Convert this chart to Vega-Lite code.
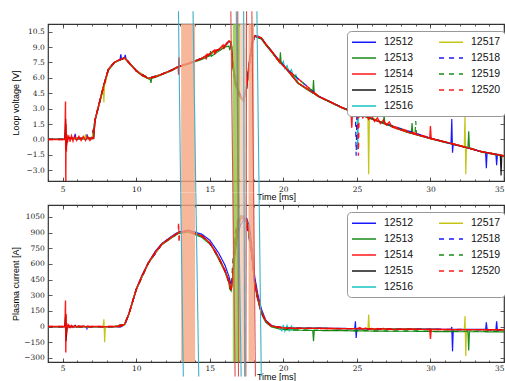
{
"$schema": "https://vega.github.io/schema/vega-lite/v6.json",
"background": "white",
"padding": {"left": 10, "top": 10, "right": 0, "bottom": 0},
"autosize": {"type": "pad"},
"spacing": 24,
"bounds": "flush",
"datasets": {
"bands": [
{"t":13.05,"te":14.0,"c":"o"},
{"t":16.56,"te":17.06,"c":"g"},
{"t":17.06,"te":17.47,"c":"p"},
{"t":17.63,"te":18.01,"c":"o"}
],
"vlines": [
{"c":"cyan","ta":12.87,"tm":13.02,"tb":13.2},
{"c":"cyan","ta":13.86,"tm":14.05,"tb":14.25},
{"c":"cyan","ta":16.8,"tm":16.95,"tb":17.13},
{"c":"cyan","ta":17.3,"tm":17.33,"tb":17.37},
{"c":"cyan","ta":18.2,"tm":18.35,"tb":18.5},
{"c":"red","ta":16.43,"tm":16.57,"tb":16.72},
{"c":"red","ta":16.9,"tm":16.92,"tb":16.95},
{"c":"red","ta":17.5,"tm":17.48,"tb":17.45},
{"c":"red","ta":17.86,"tm":17.98,"tb":18.1}
],
"shots": [
{"s":"12512","t":4,"v":0,"i":0},
{"s":"12512","t":5.15,"v":0,"i":0},
{"s":"12512","t":5.2,"v":0.8,"i":40},
{"s":"12512","t":5.23,"v":-0.5,"i":-30},
{"s":"12512","t":5.3,"v":0.1,"i":2},
{"s":"12512","t":5.8,"v":0.1,"i":-3},
{"s":"12512","t":5.85,"v":0.55,"i":10},
{"s":"12512","t":5.9,"v":0.05,"i":-3},
{"s":"12512","t":6.6,"v":0.1,"i":0},
{"s":"12512","t":6.65,"v":0.5,"i":-20},
{"s":"12512","t":6.7,"v":0.1,"i":0},
{"s":"12512","t":7.0,"v":0.1,"i":0},
{"s":"12512","t":7.1,"v":0.1,"i":0},
{"s":"12512","t":7.2,"v":1.9,"i":0},
{"s":"12512","t":7.5,"v":3.6,"i":0},
{"s":"12512","t":7.8,"v":5.3,"i":-2},
{"s":"12512","t":8.1,"v":6.8,"i":0},
{"s":"12512","t":8.5,"v":7.5,"i":0},
{"s":"12512","t":8.9,"v":7.8,"i":-5},
{"s":"12512","t":8.95,"v":8.3,"i":0},
{"s":"12512","t":9.0,"v":7.8,"i":0},
{"s":"12512","t":9.2,"v":7.95,"i":22},
{"s":"12512","t":9.25,"v":8.25,"i":30},
{"s":"12512","t":9.3,"v":7.85,"i":40},
{"s":"12512","t":9.5,"v":7.5,"i":125},
{"s":"12512","t":10.0,"v":6.7,"i":360},
{"s":"12512","t":10.4,"v":6.25,"i":495},
{"s":"12512","t":10.83,"v":5.95,"i":616},
{"s":"12512","t":11.3,"v":6.1,"i":722},
{"s":"12512","t":11.73,"v":6.35,"i":795},
{"s":"12512","t":12.41,"v":6.75,"i":866},
{"s":"12512","t":12.87,"v":7.1,"i":906},
{"s":"12512","t":13.55,"v":7.4,"i":924},
{"s":"12512","t":14.46,"v":7.9,"i":885},
{"s":"12512","t":15.0,"v":8.3,"i":828},
{"s":"12512","t":15.6,"v":8.75,"i":705},
{"s":"12512","t":16.04,"v":9.15,"i":585},
{"s":"12512","t":16.3,"v":9.5,"i":480},
{"s":"12512","t":16.45,"v":9.4,"i":400},
{"s":"12512","t":16.55,"v":7.8,"i":430},
{"s":"12512","t":16.7,"v":6.0,"i":680},
{"s":"12512","t":16.9,"v":4.9,"i":880},
{"s":"12512","t":17.1,"v":4.2,"i":980},
{"s":"12512","t":17.3,"v":3.9,"i":1020},
{"s":"12512","t":17.5,"v":4.9,"i":1040},
{"s":"12512","t":17.7,"v":7.3,"i":960},
{"s":"12512","t":17.9,"v":9.3,"i":720},
{"s":"12512","t":18.05,"v":10.0,"i":480},
{"s":"12512","t":18.25,"v":10.1,"i":320},
{"s":"12512","t":18.5,"v":9.9,"i":170},
{"s":"12512","t":18.8,"v":9.3,"i":62},
{"s":"12512","t":19.2,"v":8.6,"i":10},
{"s":"12512","t":19.7,"v":7.6,"i":-8},
{"s":"12512","t":20.2,"v":6.9,"i":-12},
{"s":"12512","t":21.0,"v":5.5,"i":-15},
{"s":"12512","t":22.4,"v":4.2,"i":-15},
{"s":"12512","t":24.0,"v":3.1,"i":-18},
{"s":"12512","t":24.85,"v":2.6,"i":-20},
{"s":"12512","t":24.9,"v":2.6,"i":50},
{"s":"12512","t":24.95,"v":2.6,"i":-110},
{"s":"12512","t":25.0,"v":2.5,"i":-20},
{"s":"12512","t":25.5,"v":2.3,"i":-20},
{"s":"12512","t":27.0,"v":1.5,"i":-22},
{"s":"12512","t":28.5,"v":0.7,"i":-22},
{"s":"12512","t":30.3,"v":0.0,"i":-25},
{"s":"12512","t":31.4,"v":-0.4,"i":-27},
{"s":"12512","t":31.45,"v":2.0,"i":-5},
{"s":"12512","t":31.5,"v":-1.3,"i":-236},
{"s":"12512","t":31.55,"v":-0.45,"i":-28},
{"s":"12512","t":32.0,"v":-0.6,"i":-28},
{"s":"12512","t":33.5,"v":-1.2,"i":-28},
{"s":"12512","t":33.75,"v":-1.3,"i":-28},
{"s":"12512","t":33.8,"v":-2.8,"i":40},
{"s":"12512","t":33.85,"v":-1.3,"i":-28},
{"s":"12512","t":34.45,"v":-1.45,"i":-30},
{"s":"12512","t":34.5,"v":-2.5,"i":50},
{"s":"12512","t":34.55,"v":-1.5,"i":-30},
{"s":"12512","t":35.0,"v":-1.6,"i":-30},
{"s":"12513","t":4,"v":0,"i":0},
{"s":"12513","t":5.15,"v":0,"i":0},
{"s":"12513","t":5.2,"v":1.2,"i":120},
{"s":"12513","t":5.23,"v":-1.0,"i":-100},
{"s":"12513","t":5.3,"v":0.1,"i":2},
{"s":"12513","t":6.0,"v":0.05,"i":-5},
{"s":"12513","t":7.0,"v":0.05,"i":-3},
{"s":"12513","t":7.1,"v":0.1,"i":0},
{"s":"12513","t":7.2,"v":1.8,"i":0},
{"s":"12513","t":7.5,"v":3.5,"i":0},
{"s":"12513","t":7.8,"v":5.2,"i":-5},
{"s":"12513","t":8.1,"v":6.7,"i":0},
{"s":"12513","t":8.5,"v":7.45,"i":0},
{"s":"12513","t":8.9,"v":7.75,"i":0},
{"s":"12513","t":9.2,"v":7.9,"i":18},
{"s":"12513","t":9.5,"v":7.45,"i":118},
{"s":"12513","t":10.0,"v":6.65,"i":350},
{"s":"12513","t":10.4,"v":6.2,"i":485},
{"s":"12513","t":10.83,"v":5.9,"i":605},
{"s":"12513","t":10.95,"v":5.85,"i":630},
{"s":"12513","t":11.0,"v":5.5,"i":640},
{"s":"12513","t":11.05,"v":5.95,"i":650},
{"s":"12513","t":11.3,"v":6.05,"i":710},
{"s":"12513","t":11.73,"v":6.3,"i":782},
{"s":"12513","t":12.41,"v":6.7,"i":850},
{"s":"12513","t":12.87,"v":7.05,"i":892},
{"s":"12513","t":13.55,"v":7.35,"i":905},
{"s":"12513","t":14.46,"v":7.8,"i":855},
{"s":"12513","t":15.0,"v":8.15,"i":790},
{"s":"12513","t":15.05,"v":8.6,"i":785},
{"s":"12513","t":15.1,"v":8.1,"i":780},
{"s":"12513","t":15.6,"v":8.6,"i":645},
{"s":"12513","t":16.04,"v":9.0,"i":520},
{"s":"12513","t":16.3,"v":9.1,"i":415},
{"s":"12513","t":16.35,"v":8.7,"i":360},
{"s":"12513","t":16.45,"v":9.3,"i":340},
{"s":"12513","t":16.55,"v":7.3,"i":470},
{"s":"12513","t":16.7,"v":5.6,"i":780},
{"s":"12513","t":16.9,"v":4.7,"i":990},
{"s":"12513","t":17.1,"v":4.0,"i":1060},
{"s":"12513","t":17.3,"v":3.7,"i":1060},
{"s":"12513","t":17.5,"v":5.1,"i":1010},
{"s":"12513","t":17.7,"v":7.7,"i":860},
{"s":"12513","t":17.9,"v":9.6,"i":630},
{"s":"12513","t":18.05,"v":10.1,"i":400},
{"s":"12513","t":18.25,"v":9.9,"i":260},
{"s":"12513","t":18.5,"v":9.8,"i":125},
{"s":"12513","t":18.8,"v":9.2,"i":40},
{"s":"12513","t":19.2,"v":8.5,"i":-5},
{"s":"12513","t":19.75,"v":7.5,"i":-25},
{"s":"12513","t":19.8,"v":8.5,"i":-25},
{"s":"12513","t":19.85,"v":7.4,"i":-25},
{"s":"12513","t":20.2,"v":6.85,"i":-30},
{"s":"12513","t":21.0,"v":5.45,"i":-35},
{"s":"12513","t":22.0,"v":4.5,"i":-38},
{"s":"12513","t":22.05,"v":5.8,"i":-140},
{"s":"12513","t":22.1,"v":4.45,"i":-38},
{"s":"12513","t":22.4,"v":4.15,"i":-38},
{"s":"12513","t":24.0,"v":3.05,"i":-40},
{"s":"12513","t":25.5,"v":2.25,"i":-42},
{"s":"12513","t":26.8,"v":1.55,"i":-45},
{"s":"12513","t":26.85,"v":2.4,"i":-45},
{"s":"12513","t":26.9,"v":1.5,"i":-45},
{"s":"12513","t":28.5,"v":0.65,"i":-45},
{"s":"12513","t":28.7,"v":0.6,"i":-45},
{"s":"12513","t":28.75,"v":1.6,"i":-45},
{"s":"12513","t":28.8,"v":0.55,"i":-45},
{"s":"12513","t":30.3,"v":-0.05,"i":-48},
{"s":"12513","t":32.0,"v":-0.65,"i":-50},
{"s":"12513","t":32.55,"v":-0.8,"i":-50},
{"s":"12513","t":32.6,"v":0.8,"i":-230},
{"s":"12513","t":32.65,"v":-0.8,"i":-50},
{"s":"12513","t":33.5,"v":-1.25,"i":-50},
{"s":"12513","t":35.0,"v":-1.65,"i":-52},
{"s":"12514","t":4,"v":0,"i":0},
{"s":"12514","t":5.15,"v":0,"i":0},
{"s":"12514","t":5.19,"v":3.7,"i":250},
{"s":"12514","t":5.21,"v":-4.5,"i":-250},
{"s":"12514","t":5.23,"v":1.5,"i":120},
{"s":"12514","t":5.25,"v":-1.2,"i":-80},
{"s":"12514","t":5.28,"v":0.5,"i":30},
{"s":"12514","t":5.32,"v":-0.3,"i":-20},
{"s":"12514","t":5.4,"v":0.4,"i":15},
{"s":"12514","t":5.5,"v":-0.2,"i":-10},
{"s":"12514","t":5.6,"v":0.35,"i":10},
{"s":"12514","t":5.7,"v":-0.15,"i":-8},
{"s":"12514","t":5.8,"v":0.3,"i":8},
{"s":"12514","t":5.95,"v":-0.1,"i":-6},
{"s":"12514","t":6.1,"v":0.3,"i":6},
{"s":"12514","t":6.25,"v":-0.1,"i":-5},
{"s":"12514","t":6.4,"v":0.3,"i":5},
{"s":"12514","t":6.55,"v":-0.1,"i":-5},
{"s":"12514","t":6.7,"v":0.3,"i":5},
{"s":"12514","t":6.85,"v":-0.1,"i":-5},
{"s":"12514","t":7.0,"v":0.2,"i":0},
{"s":"12514","t":7.1,"v":0.1,"i":0},
{"s":"12514","t":7.2,"v":1.9,"i":0},
{"s":"12514","t":7.5,"v":3.6,"i":0},
{"s":"12514","t":7.8,"v":5.3,"i":-2},
{"s":"12514","t":8.1,"v":6.8,"i":0},
{"s":"12514","t":8.5,"v":7.5,"i":0},
{"s":"12514","t":8.9,"v":7.8,"i":0},
{"s":"12514","t":9.2,"v":7.95,"i":20},
{"s":"12514","t":9.5,"v":7.5,"i":120},
{"s":"12514","t":10.0,"v":6.7,"i":356},
{"s":"12514","t":10.4,"v":6.25,"i":490},
{"s":"12514","t":10.83,"v":5.95,"i":611},
{"s":"12514","t":11.3,"v":6.1,"i":715},
{"s":"12514","t":11.73,"v":6.35,"i":788},
{"s":"12514","t":12.41,"v":6.75,"i":858},
{"s":"12514","t":12.85,"v":7.1,"i":898},
{"s":"12514","t":12.88,"v":6.3,"i":902},
{"s":"12514","t":12.9,"v":8.0,"i":904},
{"s":"12514","t":12.93,"v":7.1,"i":906},
{"s":"12514","t":13.55,"v":7.4,"i":916},
{"s":"12514","t":14.46,"v":7.9,"i":868},
{"s":"12514","t":14.7,"v":8.15,"i":840},
{"s":"12514","t":14.75,"v":7.8,"i":835},
{"s":"12514","t":14.8,"v":8.3,"i":830},
{"s":"12514","t":15.0,"v":8.3,"i":800},
{"s":"12514","t":15.3,"v":8.7,"i":735},
{"s":"12514","t":15.35,"v":8.3,"i":725},
{"s":"12514","t":15.4,"v":8.7,"i":715},
{"s":"12514","t":15.6,"v":8.75,"i":660},
{"s":"12514","t":15.9,"v":9.2,"i":575},
{"s":"12514","t":15.95,"v":8.8,"i":560},
{"s":"12514","t":16.04,"v":9.2,"i":532},
{"s":"12514","t":16.3,"v":9.6,"i":430},
{"s":"12514","t":16.45,"v":9.5,"i":350},
{"s":"12514","t":16.55,"v":7.5,"i":450},
{"s":"12514","t":16.7,"v":5.8,"i":750},
{"s":"12514","t":16.9,"v":4.8,"i":960},
{"s":"12514","t":17.1,"v":4.1,"i":1040},
{"s":"12514","t":17.3,"v":3.8,"i":1050},
{"s":"12514","t":17.5,"v":5.0,"i":1020},
{"s":"12514","t":17.7,"v":7.5,"i":880},
{"s":"12514","t":17.9,"v":9.5,"i":650},
{"s":"12514","t":18.05,"v":10.1,"i":420},
{"s":"12514","t":18.25,"v":10.0,"i":280},
{"s":"12514","t":18.5,"v":9.9,"i":140},
{"s":"12514","t":18.8,"v":9.3,"i":52},
{"s":"12514","t":19.2,"v":8.6,"i":5},
{"s":"12514","t":19.7,"v":7.6,"i":-10},
{"s":"12514","t":20.2,"v":6.9,"i":-15},
{"s":"12514","t":21.0,"v":5.5,"i":-18},
{"s":"12514","t":22.4,"v":4.2,"i":-18},
{"s":"12514","t":24.0,"v":3.1,"i":-20},
{"s":"12514","t":24.6,"v":2.7,"i":-20},
{"s":"12514","t":24.65,"v":1.15,"i":-20},
{"s":"12514","t":24.7,"v":2.7,"i":-20},
{"s":"12514","t":25.0,"v":2.5,"i":-20},
{"s":"12514","t":25.2,"v":2.75,"i":-10},
{"s":"12514","t":25.4,"v":2.1,"i":-25},
{"s":"12514","t":25.6,"v":2.5,"i":-15},
{"s":"12514","t":25.8,"v":1.95,"i":-28},
{"s":"12514","t":26.0,"v":2.3,"i":-18},
{"s":"12514","t":26.2,"v":1.75,"i":-28},
{"s":"12514","t":26.4,"v":2.1,"i":-18},
{"s":"12514","t":26.6,"v":1.55,"i":-28},
{"s":"12514","t":26.8,"v":1.9,"i":-18},
{"s":"12514","t":27.0,"v":1.4,"i":-28},
{"s":"12514","t":27.2,"v":1.7,"i":-20},
{"s":"12514","t":27.4,"v":1.2,"i":-28},
{"s":"12514","t":28.5,"v":0.7,"i":-25},
{"s":"12514","t":29.95,"v":0.1,"i":-28},
{"s":"12514","t":30.0,"v":1.3,"i":-120},
{"s":"12514","t":30.05,"v":0.05,"i":-28},
{"s":"12514","t":30.3,"v":0.0,"i":-28},
{"s":"12514","t":32.0,"v":-0.6,"i":-30},
{"s":"12514","t":33.5,"v":-1.2,"i":-30},
{"s":"12514","t":35.0,"v":-1.6,"i":-32},
{"s":"12515","t":4,"v":0,"i":0},
{"s":"12515","t":5.15,"v":0,"i":0},
{"s":"12515","t":5.2,"v":2.0,"i":100},
{"s":"12515","t":5.23,"v":-1.0,"i":-140},
{"s":"12515","t":5.3,"v":0.1,"i":2},
{"s":"12515","t":7.0,"v":0.1,"i":0},
{"s":"12515","t":7.2,"v":1.95,"i":0},
{"s":"12515","t":7.5,"v":3.65,"i":0},
{"s":"12515","t":7.8,"v":5.35,"i":0},
{"s":"12515","t":8.1,"v":6.85,"i":0},
{"s":"12515","t":8.5,"v":7.5,"i":0},
{"s":"12515","t":9.2,"v":7.95,"i":20},
{"s":"12515","t":9.5,"v":7.5,"i":120},
{"s":"12515","t":10.0,"v":6.7,"i":356},
{"s":"12515","t":10.83,"v":5.95,"i":611},
{"s":"12515","t":11.73,"v":6.35,"i":790},
{"s":"12515","t":12.41,"v":6.78,"i":860},
{"s":"12515","t":12.87,"v":7.12,"i":902},
{"s":"12515","t":13.55,"v":7.42,"i":918},
{"s":"12515","t":14.46,"v":7.92,"i":870},
{"s":"12515","t":15.0,"v":8.3,"i":800},
{"s":"12515","t":15.6,"v":8.75,"i":662},
{"s":"12515","t":16.04,"v":9.15,"i":534},
{"s":"12515","t":16.3,"v":9.55,"i":432},
{"s":"12515","t":16.45,"v":9.5,"i":352},
{"s":"12515","t":16.55,"v":7.6,"i":440},
{"s":"12515","t":16.7,"v":5.9,"i":730},
{"s":"12515","t":16.9,"v":4.85,"i":950},
{"s":"12515","t":17.1,"v":4.15,"i":1030},
{"s":"12515","t":17.3,"v":3.85,"i":1045},
{"s":"12515","t":17.5,"v":5.0,"i":1020},
{"s":"12515","t":17.7,"v":7.4,"i":890},
{"s":"12515","t":17.9,"v":9.45,"i":660},
{"s":"12515","t":18.05,"v":10.05,"i":430},
{"s":"12515","t":18.25,"v":10.0,"i":285},
{"s":"12515","t":18.5,"v":9.85,"i":145},
{"s":"12515","t":18.8,"v":9.3,"i":55},
{"s":"12515","t":19.2,"v":8.6,"i":5},
{"s":"12515","t":19.7,"v":7.6,"i":-10},
{"s":"12515","t":20.2,"v":6.9,"i":-15},
{"s":"12515","t":21.0,"v":5.5,"i":-18},
{"s":"12515","t":22.4,"v":4.2,"i":-18},
{"s":"12515","t":24.0,"v":3.1,"i":-20},
{"s":"12515","t":25.5,"v":2.3,"i":-22},
{"s":"12515","t":27.0,"v":1.5,"i":-25},
{"s":"12515","t":28.5,"v":0.7,"i":-25},
{"s":"12515","t":30.3,"v":0.0,"i":-28},
{"s":"12515","t":32.0,"v":-0.6,"i":-30},
{"s":"12515","t":33.5,"v":-1.2,"i":-30},
{"s":"12515","t":34.75,"v":-1.5,"i":-30},
{"s":"12515","t":34.8,"v":-3.5,"i":-30},
{"s":"12515","t":34.85,"v":-1.55,"i":-30},
{"s":"12515","t":35.0,"v":-1.6,"i":-32},
{"s":"12516","t":4,"v":0,"i":0},
{"s":"12516","t":5.15,"v":0,"i":0},
{"s":"12516","t":5.3,"v":0.1,"i":0},
{"s":"12516","t":7.0,"v":0.1,"i":0},
{"s":"12516","t":7.2,"v":1.9,"i":0},
{"s":"12516","t":7.5,"v":3.6,"i":0},
{"s":"12516","t":7.8,"v":5.3,"i":0},
{"s":"12516","t":8.1,"v":6.8,"i":0},
{"s":"12516","t":8.5,"v":7.5,"i":0},
{"s":"12516","t":9.2,"v":7.95,"i":20},
{"s":"12516","t":9.5,"v":7.5,"i":120},
{"s":"12516","t":10.0,"v":6.7,"i":356},
{"s":"12516","t":10.83,"v":5.95,"i":611},
{"s":"12516","t":11.73,"v":6.35,"i":788},
{"s":"12516","t":12.41,"v":6.75,"i":858},
{"s":"12516","t":12.87,"v":7.1,"i":900},
{"s":"12516","t":13.55,"v":7.4,"i":916},
{"s":"12516","t":14.46,"v":7.9,"i":868},
{"s":"12516","t":15.0,"v":8.3,"i":800},
{"s":"12516","t":15.6,"v":8.75,"i":660},
{"s":"12516","t":16.04,"v":9.15,"i":532},
{"s":"12516","t":16.3,"v":9.55,"i":430},
{"s":"12516","t":16.45,"v":9.5,"i":350},
{"s":"12516","t":16.55,"v":7.5,"i":450},
{"s":"12516","t":16.7,"v":5.8,"i":750},
{"s":"12516","t":16.9,"v":4.8,"i":960},
{"s":"12516","t":17.1,"v":4.1,"i":1040},
{"s":"12516","t":17.3,"v":3.8,"i":1050},
{"s":"12516","t":17.5,"v":5.0,"i":1020},
{"s":"12516","t":17.7,"v":7.5,"i":880},
{"s":"12516","t":17.9,"v":9.5,"i":650},
{"s":"12516","t":18.05,"v":10.1,"i":420},
{"s":"12516","t":18.25,"v":10.0,"i":280},
{"s":"12516","t":18.5,"v":9.9,"i":140},
{"s":"12516","t":18.8,"v":9.3,"i":52},
{"s":"12516","t":19.2,"v":8.6,"i":5},
{"s":"12516","t":19.7,"v":7.6,"i":-10},
{"s":"12516","t":19.9,"v":7.3,"i":-40},
{"s":"12516","t":20.0,"v":7.6,"i":15},
{"s":"12516","t":20.1,"v":6.9,"i":-45},
{"s":"12516","t":20.25,"v":7.2,"i":10},
{"s":"12516","t":20.4,"v":6.5,"i":-40},
{"s":"12516","t":20.55,"v":6.8,"i":5},
{"s":"12516","t":20.7,"v":6.0,"i":-35},
{"s":"12516","t":20.85,"v":6.3,"i":-10},
{"s":"12516","t":21.0,"v":5.5,"i":-18},
{"s":"12516","t":22.4,"v":4.2,"i":-18},
{"s":"12516","t":24.0,"v":3.1,"i":-20},
{"s":"12516","t":24.95,"v":2.6,"i":-20},
{"s":"12516","t":25.0,"v":3.9,"i":-20},
{"s":"12516","t":25.05,"v":-1.0,"i":-20},
{"s":"12516","t":25.1,"v":2.5,"i":-20},
{"s":"12516","t":25.5,"v":2.3,"i":-22},
{"s":"12516","t":27.0,"v":1.5,"i":-25},
{"s":"12516","t":28.5,"v":0.7,"i":-25},
{"s":"12516","t":30.3,"v":0.0,"i":-28},
{"s":"12516","t":32.0,"v":-0.6,"i":-30},
{"s":"12516","t":33.5,"v":-1.2,"i":-30},
{"s":"12516","t":35.0,"v":-1.6,"i":-32},
{"s":"12517","t":4,"v":0,"i":0},
{"s":"12517","t":5.15,"v":0,"i":0},
{"s":"12517","t":5.3,"v":0.1,"i":0},
{"s":"12517","t":6.5,"v":0.1,"i":0},
{"s":"12517","t":6.55,"v":0.5,"i":0},
{"s":"12517","t":6.6,"v":0.1,"i":0},
{"s":"12517","t":7.0,"v":0.1,"i":0},
{"s":"12517","t":7.2,"v":1.9,"i":0},
{"s":"12517","t":7.5,"v":3.6,"i":0},
{"s":"12517","t":7.75,"v":5.2,"i":-2},
{"s":"12517","t":7.8,"v":3.6,"i":70},
{"s":"12517","t":7.85,"v":5.6,"i":-150},
{"s":"12517","t":7.9,"v":5.5,"i":0},
{"s":"12517","t":8.1,"v":6.8,"i":0},
{"s":"12517","t":8.5,"v":7.5,"i":0},
{"s":"12517","t":9.2,"v":7.95,"i":20},
{"s":"12517","t":9.5,"v":7.5,"i":120},
{"s":"12517","t":10.0,"v":6.7,"i":356},
{"s":"12517","t":10.83,"v":5.95,"i":611},
{"s":"12517","t":11.73,"v":6.35,"i":788},
{"s":"12517","t":12.41,"v":6.75,"i":858},
{"s":"12517","t":12.87,"v":7.1,"i":900},
{"s":"12517","t":13.55,"v":7.4,"i":916},
{"s":"12517","t":14.46,"v":7.9,"i":868},
{"s":"12517","t":15.0,"v":8.3,"i":800},
{"s":"12517","t":15.6,"v":8.75,"i":660},
{"s":"12517","t":16.04,"v":9.15,"i":532},
{"s":"12517","t":16.3,"v":9.55,"i":430},
{"s":"12517","t":16.45,"v":9.5,"i":350},
{"s":"12517","t":16.55,"v":7.5,"i":450},
{"s":"12517","t":16.7,"v":5.8,"i":750},
{"s":"12517","t":16.9,"v":4.8,"i":960},
{"s":"12517","t":17.1,"v":4.1,"i":1040},
{"s":"12517","t":17.3,"v":3.8,"i":1050},
{"s":"12517","t":17.5,"v":5.0,"i":1020},
{"s":"12517","t":17.7,"v":7.5,"i":880},
{"s":"12517","t":17.9,"v":9.5,"i":650},
{"s":"12517","t":18.05,"v":10.1,"i":420},
{"s":"12517","t":18.25,"v":10.0,"i":280},
{"s":"12517","t":18.5,"v":9.9,"i":140},
{"s":"12517","t":18.8,"v":9.3,"i":52},
{"s":"12517","t":19.2,"v":8.6,"i":5},
{"s":"12517","t":19.7,"v":7.6,"i":-10},
{"s":"12517","t":20.2,"v":6.9,"i":-15},
{"s":"12517","t":21.0,"v":5.5,"i":-18},
{"s":"12517","t":22.4,"v":4.2,"i":-18},
{"s":"12517","t":24.0,"v":3.1,"i":-20},
{"s":"12517","t":25.35,"v":2.35,"i":-20},
{"s":"12517","t":25.4,"v":3.8,"i":-20},
{"s":"12517","t":25.45,"v":2.35,"i":-20},
{"s":"12517","t":25.75,"v":2.2,"i":-22},
{"s":"12517","t":25.8,"v":-3.4,"i":116},
{"s":"12517","t":25.85,"v":2.2,"i":-22},
{"s":"12517","t":27.0,"v":1.5,"i":-25},
{"s":"12517","t":28.5,"v":0.7,"i":-25},
{"s":"12517","t":30.3,"v":0.0,"i":-28},
{"s":"12517","t":32.0,"v":-0.6,"i":-30},
{"s":"12517","t":32.3,"v":-0.7,"i":-30},
{"s":"12517","t":32.35,"v":2.5,"i":100},
{"s":"12517","t":32.4,"v":-3.4,"i":-284},
{"s":"12517","t":32.45,"v":-0.75,"i":-30},
{"s":"12517","t":33.5,"v":-1.2,"i":-30},
{"s":"12517","t":35.0,"v":-1.6,"i":-32},
{"s":"12518","t":4,"v":0,"i":0},
{"s":"12518","t":5.15,"v":0,"i":0},
{"s":"12518","t":5.3,"v":0.1,"i":0},
{"s":"12518","t":7.0,"v":0.1,"i":0},
{"s":"12518","t":7.2,"v":1.9,"i":0},
{"s":"12518","t":7.5,"v":3.6,"i":0},
{"s":"12518","t":7.8,"v":5.3,"i":0},
{"s":"12518","t":8.1,"v":6.8,"i":0},
{"s":"12518","t":8.5,"v":7.5,"i":0},
{"s":"12518","t":9.2,"v":7.95,"i":20},
{"s":"12518","t":9.5,"v":7.5,"i":120},
{"s":"12518","t":10.0,"v":6.7,"i":356},
{"s":"12518","t":10.83,"v":5.95,"i":611},
{"s":"12518","t":11.73,"v":6.35,"i":788},
{"s":"12518","t":12.41,"v":6.75,"i":858},
{"s":"12518","t":12.87,"v":7.1,"i":900},
{"s":"12518","t":13.55,"v":7.4,"i":916},
{"s":"12518","t":14.46,"v":7.9,"i":868},
{"s":"12518","t":15.0,"v":8.3,"i":800},
{"s":"12518","t":15.6,"v":8.75,"i":660},
{"s":"12518","t":16.04,"v":9.15,"i":532},
{"s":"12518","t":16.3,"v":9.55,"i":430},
{"s":"12518","t":16.45,"v":9.5,"i":350},
{"s":"12518","t":16.55,"v":8.0,"i":520},
{"s":"12518","t":16.7,"v":6.2,"i":820},
{"s":"12518","t":16.9,"v":5.0,"i":1000},
{"s":"12518","t":17.1,"v":4.3,"i":1060},
{"s":"12518","t":17.3,"v":4.0,"i":1030},
{"s":"12518","t":17.5,"v":5.2,"i":960},
{"s":"12518","t":17.7,"v":7.8,"i":820},
{"s":"12518","t":17.9,"v":9.6,"i":600},
{"s":"12518","t":18.05,"v":10.1,"i":400},
{"s":"12518","t":18.25,"v":10.0,"i":270},
{"s":"12518","t":18.5,"v":9.9,"i":135},
{"s":"12518","t":18.8,"v":9.3,"i":50},
{"s":"12518","t":19.2,"v":8.6,"i":5},
{"s":"12518","t":20.2,"v":6.9,"i":-15},
{"s":"12518","t":22.4,"v":4.2,"i":-18},
{"s":"12518","t":24.0,"v":3.1,"i":-20},
{"s":"12518","t":24.9,"v":2.6,"i":-20},
{"s":"12518","t":24.95,"v":-1.6,"i":-20},
{"s":"12518","t":25.0,"v":2.55,"i":-20},
{"s":"12518","t":25.5,"v":2.3,"i":-22},
{"s":"12518","t":27.0,"v":1.5,"i":-25},
{"s":"12518","t":30.3,"v":0.0,"i":-28},
{"s":"12518","t":33.5,"v":-1.2,"i":-30},
{"s":"12518","t":35.0,"v":-1.6,"i":-32},
{"s":"12519","t":4,"v":0,"i":0},
{"s":"12519","t":5.15,"v":0,"i":0},
{"s":"12519","t":5.3,"v":0.1,"i":0},
{"s":"12519","t":7.0,"v":0.1,"i":0},
{"s":"12519","t":7.2,"v":1.9,"i":0},
{"s":"12519","t":7.5,"v":3.6,"i":0},
{"s":"12519","t":7.8,"v":5.3,"i":0},
{"s":"12519","t":8.1,"v":6.8,"i":0},
{"s":"12519","t":8.5,"v":7.5,"i":0},
{"s":"12519","t":9.2,"v":7.95,"i":20},
{"s":"12519","t":9.5,"v":7.5,"i":120},
{"s":"12519","t":10.0,"v":6.7,"i":356},
{"s":"12519","t":10.83,"v":5.95,"i":611},
{"s":"12519","t":11.73,"v":6.35,"i":788},
{"s":"12519","t":12.41,"v":6.75,"i":858},
{"s":"12519","t":12.87,"v":7.1,"i":900},
{"s":"12519","t":13.55,"v":7.4,"i":916},
{"s":"12519","t":14.46,"v":7.9,"i":868},
{"s":"12519","t":15.0,"v":8.3,"i":800},
{"s":"12519","t":15.6,"v":8.75,"i":660},
{"s":"12519","t":16.04,"v":9.15,"i":532},
{"s":"12519","t":16.3,"v":9.55,"i":430},
{"s":"12519","t":16.45,"v":9.5,"i":350},
{"s":"12519","t":16.55,"v":7.2,"i":600},
{"s":"12519","t":16.7,"v":5.5,"i":880},
{"s":"12519","t":16.9,"v":4.6,"i":1020},
{"s":"12519","t":17.1,"v":4.0,"i":1070},
{"s":"12519","t":17.3,"v":3.9,"i":1040},
{"s":"12519","t":17.5,"v":5.3,"i":980},
{"s":"12519","t":17.7,"v":7.9,"i":840},
{"s":"12519","t":17.9,"v":9.7,"i":620},
{"s":"12519","t":18.05,"v":10.1,"i":410},
{"s":"12519","t":18.25,"v":10.0,"i":275},
{"s":"12519","t":18.5,"v":9.9,"i":138},
{"s":"12519","t":18.8,"v":9.3,"i":50},
{"s":"12519","t":19.2,"v":8.6,"i":0},
{"s":"12519","t":20.2,"v":6.9,"i":-30},
{"s":"12519","t":22.4,"v":4.2,"i":-35},
{"s":"12519","t":24.0,"v":3.1,"i":-38},
{"s":"12519","t":27.0,"v":1.5,"i":-42},
{"s":"12519","t":28.95,"v":0.5,"i":-42},
{"s":"12519","t":29.0,"v":1.8,"i":-42},
{"s":"12519","t":29.05,"v":0.5,"i":-42},
{"s":"12519","t":30.3,"v":0.0,"i":-45},
{"s":"12519","t":33.5,"v":-1.2,"i":-45},
{"s":"12519","t":35.0,"v":-1.6,"i":-48},
{"s":"12520","t":4,"v":0,"i":0},
{"s":"12520","t":5.15,"v":0,"i":0},
{"s":"12520","t":5.3,"v":0.1,"i":0},
{"s":"12520","t":7.0,"v":0.1,"i":0},
{"s":"12520","t":7.2,"v":1.9,"i":0},
{"s":"12520","t":7.5,"v":3.6,"i":0},
{"s":"12520","t":7.8,"v":5.3,"i":0},
{"s":"12520","t":8.1,"v":6.8,"i":0},
{"s":"12520","t":8.5,"v":7.5,"i":0},
{"s":"12520","t":9.2,"v":7.95,"i":20},
{"s":"12520","t":9.5,"v":7.5,"i":120},
{"s":"12520","t":10.0,"v":6.7,"i":356},
{"s":"12520","t":10.83,"v":5.95,"i":611},
{"s":"12520","t":11.73,"v":6.35,"i":788},
{"s":"12520","t":12.41,"v":6.75,"i":858},
{"s":"12520","t":12.85,"v":7.1,"i":898},
{"s":"12520","t":12.88,"v":7.1,"i":1000},
{"s":"12520","t":12.91,"v":7.1,"i":800},
{"s":"12520","t":12.94,"v":7.1,"i":902},
{"s":"12520","t":13.55,"v":7.4,"i":916},
{"s":"12520","t":14.46,"v":7.9,"i":868},
{"s":"12520","t":15.0,"v":8.3,"i":800},
{"s":"12520","t":15.6,"v":8.75,"i":660},
{"s":"12520","t":16.04,"v":9.15,"i":532},
{"s":"12520","t":16.3,"v":9.55,"i":430},
{"s":"12520","t":16.45,"v":9.5,"i":350},
{"s":"12520","t":16.55,"v":7.4,"i":480},
{"s":"12520","t":16.7,"v":5.7,"i":800},
{"s":"12520","t":16.9,"v":4.7,"i":990},
{"s":"12520","t":17.1,"v":4.0,"i":1050},
{"s":"12520","t":17.3,"v":3.7,"i":1030},
{"s":"12520","t":17.5,"v":5.1,"i":990},
{"s":"12520","t":17.7,"v":7.6,"i":860},
{"s":"12520","t":17.9,"v":9.5,"i":640},
{"s":"12520","t":18.05,"v":10.1,"i":415},
{"s":"12520","t":18.25,"v":10.0,"i":278},
{"s":"12520","t":18.5,"v":9.9,"i":140},
{"s":"12520","t":18.8,"v":9.3,"i":52},
{"s":"12520","t":19.2,"v":8.6,"i":5},
{"s":"12520","t":20.2,"v":6.9,"i":-15},
{"s":"12520","t":22.4,"v":4.2,"i":-18},
{"s":"12520","t":24.0,"v":3.1,"i":-20},
{"s":"12520","t":25.05,"v":2.5,"i":-20},
{"s":"12520","t":25.1,"v":-1.6,"i":-20},
{"s":"12520","t":25.15,"v":2.5,"i":-20},
{"s":"12520","t":25.5,"v":2.3,"i":-22},
{"s":"12520","t":27.0,"v":1.5,"i":-25},
{"s":"12520","t":30.3,"v":0.0,"i":-28},
{"s":"12520","t":33.5,"v":-1.2,"i":-30},
{"s":"12520","t":35.0,"v":-1.6,"i":-32}
]
},
"vconcat": [
{
"width": 456, "height": 157,
"layer": [
{"data": {"name": "shots"}, "transform": [{"filter": {"field": "s", "oneOf": ["12512","12513"]}}],
 "mark": {"type": "line", "clip": true, "strokeWidth": 1.2, "opacity": 0.9},
 "encoding": {
  "x": {"field": "t", "type": "quantitative", "scale": {"domain": [4,35], "nice": false, "zero": false},
        "axis": {"orient": "bottom", "values": [5,10,15,20,25,30,35], "format": "d", "title": "Time [ms]", "tickSize": -4, "labelPadding": 8, "titlePadding": 0}},
  "y": {"field": "v", "type": "quantitative", "scale": {"domain": [-4.05,11.25], "nice": false, "zero": false},
        "axis": {"orient": "left", "values": [-3,-1.5,0,1.5,3,4.5,6,7.5,9,10.5], "format": ".1f", "title": "Loop voltage [V]", "tickSize": -4, "labelPadding": 7.7, "titleX": -28}},
  "color": {"field": "s", "type": "nominal", "title": null,
            "scale": {"domain": ["12512","12513","12514","12515","12516","12517","12518","12519","12520"], "range": ["#0000ff","#008000","#ff0000","#000000","#00bfbf","#bfbf00","#0000ff","#008000","#ff0000"]},
            "legend": {"orient": "none", "legendX": 299, "legendY": 7, "columns": 2, "columnPadding": 22, "rowPadding": 3, "padding": 4, "symbolType": "M-1,0H3", "symbolSize": 144, "symbolStrokeWidth": 1.5, "symbolOpacity": 0.6, "labelOffset": 19, "fillColor": "#ffffff", "strokeColor": "#999999", "cornerRadius": 4}},
  "strokeDash": {"field": "s", "type": "nominal", "title": null,
            "scale": {"domain": ["12512","12513","12514","12515","12516","12517","12518","12519","12520"], "range": [[1,0],[1,0],[1,0],[1,0],[1,0],[1,0],[5,5],[5,5],[5,5]]}}
 }},
{"data": {"name": "shots"}, "transform": [{"filter": {"field": "s", "oneOf": ["12515","12516","12517"]}}],
 "mark": {"type": "line", "clip": true, "strokeWidth": 1.2, "opacity": 0.9},
 "encoding": {
  "x": {"field": "t", "type": "quantitative", "scale": {"domain": [4,35], "nice": false, "zero": false},
        "axis": {"orient": "top", "values": [5,10,15,20,25,30,35], "labels": false, "title": null, "tickSize": -4}},
  "y": {"field": "v", "type": "quantitative", "scale": {"domain": [-4.05,11.25], "nice": false, "zero": false},
        "axis": {"orient": "right", "values": [-3,-1.5,0,1.5,3,4.5,6,7.5,9,10.5], "labels": false, "title": null, "tickSize": -4}},
  "color": {"field": "s", "type": "nominal", "title": null,
            "scale": {"domain": ["12512","12513","12514","12515","12516","12517","12518","12519","12520"], "range": ["#0000ff","#008000","#ff0000","#000000","#00bfbf","#bfbf00","#0000ff","#008000","#ff0000"]}},
  "strokeDash": {"field": "s", "type": "nominal", "title": null,
            "scale": {"domain": ["12512","12513","12514","12515","12516","12517","12518","12519","12520"], "range": [[1,0],[1,0],[1,0],[1,0],[1,0],[1,0],[5,5],[5,5],[5,5]]}}
 }},
{"data": {"name": "shots"}, "transform": [{"filter": {"field": "s", "oneOf": ["12518","12519"]}}],
 "mark": {"type": "line", "clip": true, "strokeWidth": 1.2, "opacity": 0.9},
 "encoding": {
  "x": {"field": "t", "type": "quantitative", "scale": {"domain": [4,35], "nice": false, "zero": false},
        "axis": {"orient": "bottom", "values": [4,5,6,7,8,9,10,11,12,13,14,15,16,17,18,19,20,21,22,23,24,25,26,27,28,29,30,31,32,33,34,35], "labels": false, "title": null, "tickSize": -2}},
  "y": {"field": "v", "type": "quantitative", "scale": {"domain": [-4.05,11.25], "nice": false, "zero": false}, "axis": null},
  "color": {"field": "s", "type": "nominal", "title": null,
            "scale": {"domain": ["12512","12513","12514","12515","12516","12517","12518","12519","12520"], "range": ["#0000ff","#008000","#ff0000","#000000","#00bfbf","#bfbf00","#0000ff","#008000","#ff0000"]}},
  "strokeDash": {"field": "s", "type": "nominal", "title": null,
            "scale": {"domain": ["12512","12513","12514","12515","12516","12517","12518","12519","12520"], "range": [[1,0],[1,0],[1,0],[1,0],[1,0],[1,0],[5,5],[5,5],[5,5]]}}
 }},
{"data": {"name": "shots"}, "transform": [{"filter": {"field": "s", "oneOf": ["12514","12520"]}}],
 "mark": {"type": "line", "clip": true, "strokeWidth": 1.4, "opacity": 0.9},
 "encoding": {
  "x": {"field": "t", "type": "quantitative", "scale": {"domain": [4,35], "nice": false, "zero": false},
        "axis": {"orient": "top", "values": [4,5,6,7,8,9,10,11,12,13,14,15,16,17,18,19,20,21,22,23,24,25,26,27,28,29,30,31,32,33,34,35], "labels": false, "title": null, "tickSize": -2}},
  "y": {"field": "v", "type": "quantitative", "scale": {"domain": [-4.05,11.25], "nice": false, "zero": false}, "axis": null},
  "color": {"field": "s", "type": "nominal", "title": null,
            "scale": {"domain": ["12512","12513","12514","12515","12516","12517","12518","12519","12520"], "range": ["#0000ff","#008000","#ff0000","#000000","#00bfbf","#bfbf00","#0000ff","#008000","#ff0000"]}},
  "strokeDash": {"field": "s", "type": "nominal", "title": null,
            "scale": {"domain": ["12512","12513","12514","12515","12516","12517","12518","12519","12520"], "range": [[1,0],[1,0],[1,0],[1,0],[1,0],[1,0],[5,5],[5,5],[5,5]]}}
 }},
{"data": {"name": "bands"},
 "mark": {"type": "rect", "clip": false, "opacity": 0.8},
 "encoding": {
  "x": {"field": "t", "type": "quantitative", "scale": {"domain": [4,35], "nice": false, "zero": false}, "axis": null},
  "x2": {"field": "te"},
  "y": {"datum": 11.25, "type": "quantitative", "scale": {"domain": [-4.05,11.25], "nice": false, "zero": false}, "axis": null},
  "y2": {"datum": -5.2},
  "fill": {"field": "c", "type": "nominal", "scale": {"domain": ["o","g","p"], "range": ["#f4a582","#8cc63f","#f7c6ae"]}, "legend": null}
 }},
{"data": {"name": "vlines"},
 "mark": {"type": "rule", "clip": false, "strokeWidth": 1.1},
 "encoding": {
  "x": {"field": "ta", "type": "quantitative", "scale": {"domain": [4,35], "nice": false, "zero": false}, "axis": null},
  "x2": {"field": "tm"},
  "y": {"datum": 12.5, "type": "quantitative", "scale": {"domain": [-4.05,11.25], "nice": false, "zero": false}, "axis": null},
  "y2": {"datum": -5.2},
  "stroke": {"field": "c", "type": "nominal", "scale": {"domain": ["cyan","red"], "range": ["#3fb0c8","#d9534f"]}, "legend": null}
 }}
],
"resolve": {"axis": {"x": "independent", "y": "independent"}}
},
{
"width": 456, "height": 157,
"layer": [
{"data": {"name": "shots"}, "transform": [{"filter": {"field": "s", "oneOf": ["12512","12513"]}}],
 "mark": {"type": "line", "clip": true, "strokeWidth": 1.2, "opacity": 0.9},
 "encoding": {
  "x": {"field": "t", "type": "quantitative", "scale": {"domain": [4,35], "nice": false, "zero": false},
        "axis": {"orient": "bottom", "values": [5,10,15,20,25,30,35], "format": "d", "title": "Time [ms]", "tickSize": -4, "labelPadding": 6.5, "titlePadding": 0}},
  "y": {"field": "i", "type": "quantitative", "scale": {"domain": [-340,1165], "nice": false, "zero": false},
        "axis": {"orient": "left", "values": [-300,-150,0,150,300,450,600,750,900,1050], "format": "d", "title": "Plasma current [A]", "tickSize": -4, "labelPadding": 7.7, "titleX": -28}},
  "color": {"field": "s", "type": "nominal", "title": null,
            "scale": {"domain": ["12512","12513","12514","12515","12516","12517","12518","12519","12520"], "range": ["#0000ff","#008000","#ff0000","#000000","#00bfbf","#bfbf00","#0000ff","#008000","#ff0000"]},
            "legend": {"orient": "none", "legendX": 299, "legendY": 7, "columns": 2, "columnPadding": 22, "rowPadding": 3, "padding": 4, "symbolType": "M-1,0H3", "symbolSize": 144, "symbolStrokeWidth": 1.5, "symbolOpacity": 0.6, "labelOffset": 19, "fillColor": "#ffffff", "strokeColor": "#999999", "cornerRadius": 4}},
  "strokeDash": {"field": "s", "type": "nominal", "title": null,
            "scale": {"domain": ["12512","12513","12514","12515","12516","12517","12518","12519","12520"], "range": [[1,0],[1,0],[1,0],[1,0],[1,0],[1,0],[5,5],[5,5],[5,5]]}}
 }},
{"data": {"name": "shots"}, "transform": [{"filter": {"field": "s", "oneOf": ["12515","12516","12517"]}}],
 "mark": {"type": "line", "clip": true, "strokeWidth": 1.2, "opacity": 0.9},
 "encoding": {
  "x": {"field": "t", "type": "quantitative", "scale": {"domain": [4,35], "nice": false, "zero": false},
        "axis": {"orient": "top", "values": [5,10,15,20,25,30,35], "labels": false, "title": null, "tickSize": -4}},
  "y": {"field": "i", "type": "quantitative", "scale": {"domain": [-340,1165], "nice": false, "zero": false},
        "axis": {"orient": "right", "values": [-300,-150,0,150,300,450,600,750,900,1050], "labels": false, "title": null, "tickSize": -4}},
  "color": {"field": "s", "type": "nominal", "title": null,
            "scale": {"domain": ["12512","12513","12514","12515","12516","12517","12518","12519","12520"], "range": ["#0000ff","#008000","#ff0000","#000000","#00bfbf","#bfbf00","#0000ff","#008000","#ff0000"]}},
  "strokeDash": {"field": "s", "type": "nominal", "title": null,
            "scale": {"domain": ["12512","12513","12514","12515","12516","12517","12518","12519","12520"], "range": [[1,0],[1,0],[1,0],[1,0],[1,0],[1,0],[5,5],[5,5],[5,5]]}}
 }},
{"data": {"name": "shots"}, "transform": [{"filter": {"field": "s", "oneOf": ["12518","12519"]}}],
 "mark": {"type": "line", "clip": true, "strokeWidth": 1.2, "opacity": 0.9},
 "encoding": {
  "x": {"field": "t", "type": "quantitative", "scale": {"domain": [4,35], "nice": false, "zero": false},
        "axis": {"orient": "bottom", "values": [4,5,6,7,8,9,10,11,12,13,14,15,16,17,18,19,20,21,22,23,24,25,26,27,28,29,30,31,32,33,34,35], "labels": false, "title": null, "tickSize": -2}},
  "y": {"field": "i", "type": "quantitative", "scale": {"domain": [-340,1165], "nice": false, "zero": false}, "axis": null},
  "color": {"field": "s", "type": "nominal", "title": null,
            "scale": {"domain": ["12512","12513","12514","12515","12516","12517","12518","12519","12520"], "range": ["#0000ff","#008000","#ff0000","#000000","#00bfbf","#bfbf00","#0000ff","#008000","#ff0000"]}},
  "strokeDash": {"field": "s", "type": "nominal", "title": null,
            "scale": {"domain": ["12512","12513","12514","12515","12516","12517","12518","12519","12520"], "range": [[1,0],[1,0],[1,0],[1,0],[1,0],[1,0],[5,5],[5,5],[5,5]]}}
 }},
{"data": {"name": "shots"}, "transform": [{"filter": {"field": "s", "oneOf": ["12514","12520"]}}],
 "mark": {"type": "line", "clip": true, "strokeWidth": 1.4, "opacity": 0.9},
 "encoding": {
  "x": {"field": "t", "type": "quantitative", "scale": {"domain": [4,35], "nice": false, "zero": false},
        "axis": {"orient": "top", "values": [4,5,6,7,8,9,10,11,12,13,14,15,16,17,18,19,20,21,22,23,24,25,26,27,28,29,30,31,32,33,34,35], "labels": false, "title": null, "tickSize": -2}},
  "y": {"field": "i", "type": "quantitative", "scale": {"domain": [-340,1165], "nice": false, "zero": false}, "axis": null},
  "color": {"field": "s", "type": "nominal", "title": null,
            "scale": {"domain": ["12512","12513","12514","12515","12516","12517","12518","12519","12520"], "range": ["#0000ff","#008000","#ff0000","#000000","#00bfbf","#bfbf00","#0000ff","#008000","#ff0000"]}},
  "strokeDash": {"field": "s", "type": "nominal", "title": null,
            "scale": {"domain": ["12512","12513","12514","12515","12516","12517","12518","12519","12520"], "range": [[1,0],[1,0],[1,0],[1,0],[1,0],[1,0],[5,5],[5,5],[5,5]]}}
 }},
{"data": {"name": "bands"},
 "mark": {"type": "rect", "clip": false, "opacity": 0.8},
 "encoding": {
  "x": {"field": "t", "type": "quantitative", "scale": {"domain": [4,35], "nice": false, "zero": false}, "axis": null},
  "x2": {"field": "te"},
  "y": {"datum": 1280, "type": "quantitative", "scale": {"domain": [-340,1165], "nice": false, "zero": false}, "axis": null},
  "y2": {"datum": -340},
  "fill": {"field": "c", "type": "nominal", "scale": {"domain": ["o","g","p"], "range": ["#f4a582","#8cc63f","#f7c6ae"]}, "legend": null}
 }},
{"data": {"name": "vlines"},
 "mark": {"type": "rule", "clip": false, "strokeWidth": 1.1},
 "encoding": {
  "x": {"field": "tm", "type": "quantitative", "scale": {"domain": [4,35], "nice": false, "zero": false}, "axis": null},
  "x2": {"field": "tb"},
  "y": {"datum": 1280, "type": "quantitative", "scale": {"domain": [-340,1165], "nice": false, "zero": false}, "axis": null},
  "y2": {"datum": -480},
  "stroke": {"field": "c", "type": "nominal", "scale": {"domain": ["cyan","red"], "range": ["#3fb0c8","#d9534f"]}, "legend": null}
 }}
],
"resolve": {"axis": {"x": "independent", "y": "independent"}}
}
],
"resolve": {"legend": {"color": "independent", "strokeDash": "independent"}},
"config": {
 "font": "Liberation Sans",
 "view": {"stroke": "#333333", "strokeWidth": 1.2},
 "axis": {"labelFont": "DejaVu Serif", "labelFontSize": 7.5, "labelColor": "#222222", "titleFont": "Liberation Sans", "titleFontSize": 9, "titleFontWeight": "normal", "titleColor": "#000000", "domain": false, "grid": false, "tickColor": "#333333", "tickWidth": 0.8},
 "legend": {"labelFont": "Liberation Sans", "labelFontSize": 10.5, "labelColor": "#111111"}
}
}
